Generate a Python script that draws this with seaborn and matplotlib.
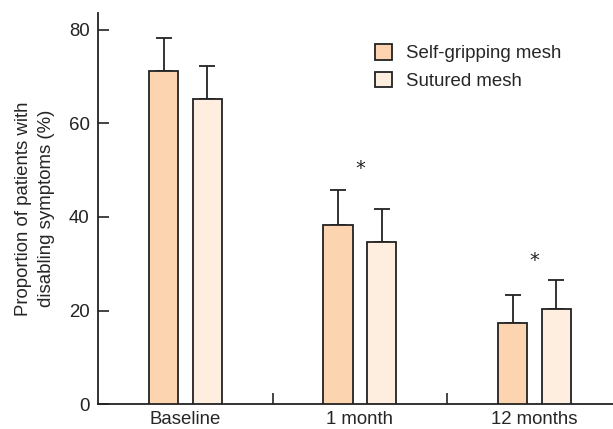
import numpy as np
import pandas as pd
import matplotlib
matplotlib.use("Agg")
import matplotlib.pyplot as plt
import seaborn as sns
from matplotlib.patches import Patch
from matplotlib.ticker import FixedLocator

# data
timepoints = ["Baseline", "1 month", "12 months"]
groups = ["Self-gripping mesh", "Sutured mesh"]
self_gripping = [71.2, 38.2, 17.4]
self_gripping_err = [7.1, 7.5, 6.0]
sutured = [65.2, 34.7, 20.3]
sutured_err = [7.1, 7.0, 6.2]
# significance markers: (timepoint index, height)
sig_marks = [(1, 50.3), (2, 30.6)]

colors = ["#fcd5b0", "#fdeee0"]

df = pd.DataFrame({
    "time": timepoints * 2,
    "group": [groups[0]] * 3 + [groups[1]] * 3,
    "value": self_gripping + sutured,
})
errs = [self_gripping_err, sutured_err]

sns.set_style("ticks")
plt.rcParams["font.family"] = ["Liberation Sans", "DejaVu Sans"]
plt.rcParams["font.size"] = 13.4

fig = plt.figure(figsize=(6.13, 4.29), dpi=100)
ax = fig.add_axes([0.16, 0.058, 0.84, 0.911])

sns.barplot(data=df, x="time", y="value", hue="group", order=timepoints,
            hue_order=groups, palette=colors, saturation=1, width=0.5, gap=0.33,
            edgecolor="#222222", linewidth=1.3, errorbar=None, legend=False,
            ax=ax, zorder=3)

# upper-only error bars
for cont, err in zip(ax.containers, errs):
    xs = [b.get_x() + b.get_width() / 2 for b in cont]
    ys = [b.get_height() for b in cont]
    ax.errorbar(xs, ys, yerr=[np.zeros(len(err)), err], fmt="none",
                ecolor="#222222", elinewidth=1.3, capsize=6, capthick=1.3,
                zorder=2)

for i, h in sig_marks:
    ax.text(i, h, "*", ha="center", va="center", fontsize=14,
            family="DejaVu Sans", color="#222222")

ax.set_xlim(-0.5, 2.45)
ax.set_ylim(0, 83.5)
ax.set_yticks([0, 20, 40, 60, 80])
ax.tick_params(axis="y", direction="in", length=8, width=1.2, pad=6,
               labelsize=13.4, colors="#222222")
ax.tick_params(axis="x", which="major", length=0, pad=5, labelsize=13.4)
ax.xaxis.set_minor_locator(FixedLocator([0.5, 1.5]))
ax.tick_params(axis="x", which="minor", direction="in", length=8, width=1.2)
ax.set_xlabel("")
ax.set_ylabel("Proportion of patients with\ndisabling symptoms (%)",
              fontsize=13.4, labelpad=10, linespacing=1.45)

for s in ["top", "right"]:
    ax.spines[s].set_visible(False)
for s in ["left", "bottom"]:
    ax.spines[s].set_linewidth(1.3)
    ax.spines[s].set_color("#222222")

handles = [Patch(facecolor=c, edgecolor="#222222", linewidth=1.3) for c in colors]
ax.legend(handles, groups, loc="upper left", bbox_to_anchor=(0.523, 0.94),
          frameon=False, fontsize=13.4, handlelength=0.9, handleheight=0.9,
          handletextpad=0.8, labelspacing=0.5, borderaxespad=0)

fig.savefig("out.png", dpi=100)
